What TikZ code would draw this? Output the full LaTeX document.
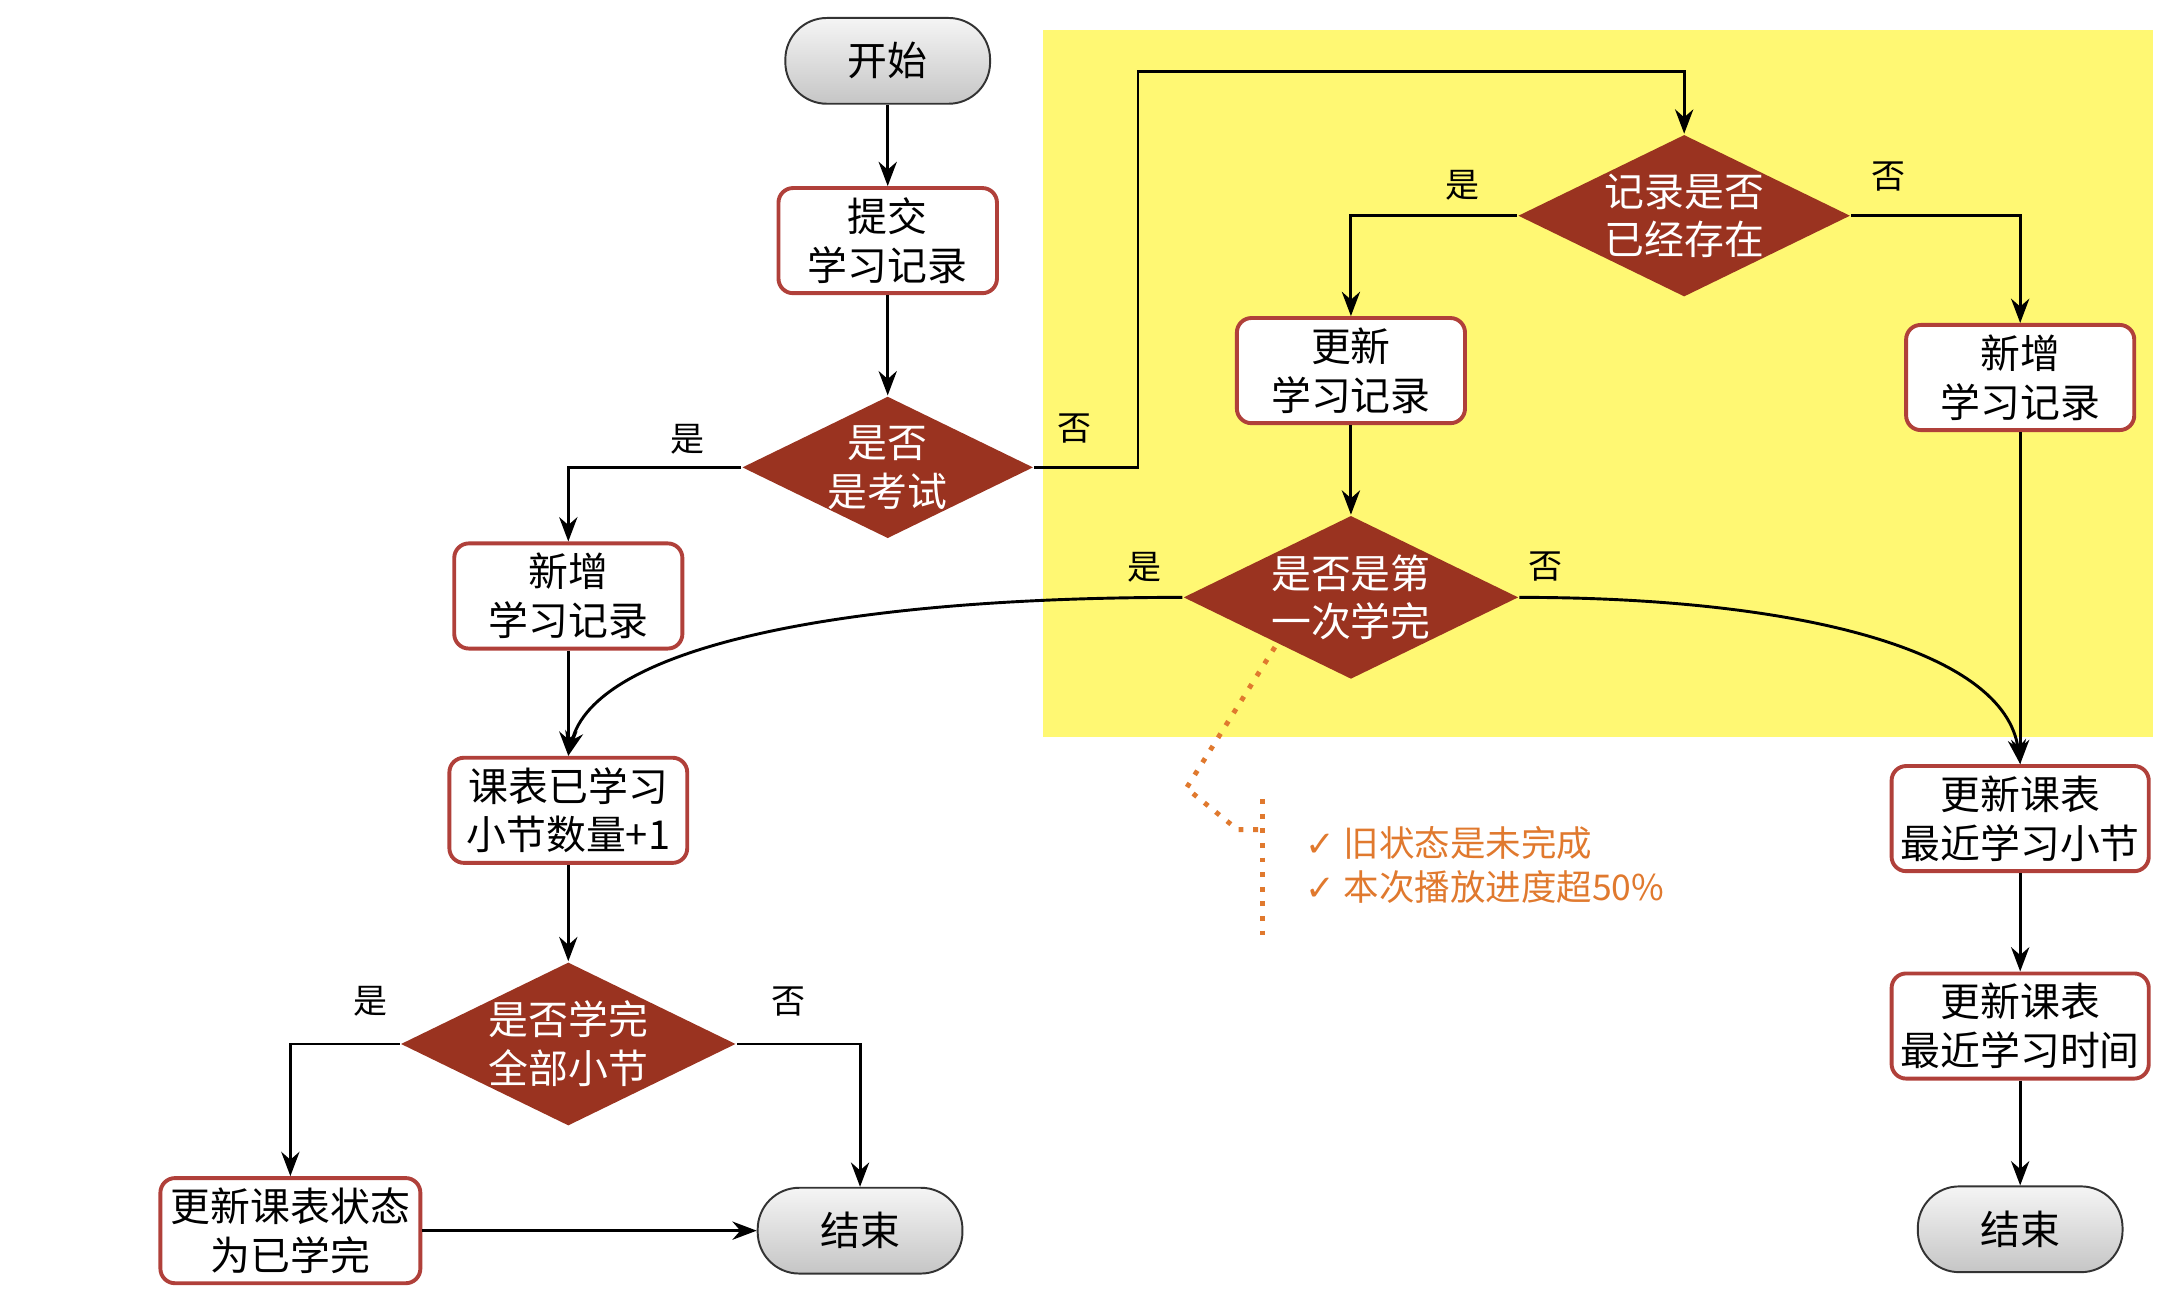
\documentclass[tikz,border=0pt]{standalone}
\usepackage{fontspec}
\setmainfont{Noto Sans CJK SC}
\newfontfamily\ckf{DejaVu Sans}
\usetikzlibrary{shapes.geometric,arrows.meta}
\definecolor{dred}{HTML}{9A3320}
\definecolor{bred}{HTML}{B0403A}
\definecolor{note}{HTML}{E0792E}
\begin{document}
\begin{tikzpicture}[x=0.01cm,y=-0.01cm,
 font=\fontsize{8.2}{10}\selectfont,
 box/.style={draw=bred,line width=0.8pt,rounded corners=3pt,fill=white,minimum width=#1*0.01cm,minimum height=0.76cm,align=center,inner sep=1pt},
 term/.style={draw=black!80,rounded corners=0.3cm,top color=gray!8,bottom color=gray!45,minimum width=1.48cm,minimum height=0.62cm},
 dia/.style={diamond,aspect=2.05,fill=dred,text=white,minimum width=#1*0.01cm,align=center,inner sep=0pt},
 ar/.style={-{Stealth[length=5pt]},line width=0.6pt},
 lab/.style={font=\fontsize{7}{8}\selectfont}]
\useasboundingbox (0,0) rectangle (1565,935);
\fill[yellow!55] (754,22) rectangle (1557,533);
\node[term] (s) at (642,44) {开始};
\node[box=158] (tj) at (642,174) {提交\\学习记录};
\node[dia=210] (ks) at (642,338) {是否\\是考试};
\node[box=165] (xz1) at (411,431) {新增\\学习记录};
\node[box=172] (kb) at (411,586) {课表已学习\\小节数量+1};
\node[dia=240] (xw) at (411,755) {是否学完\\全部小节};
\node[box=188] (zt) at (210,890) {更新课表状态\\为已学完};
\node[term] (e1) at (622,890) {结束};
\node[dia=240] (jl) at (1218,156) {记录是否\\已经存在};
\node[box=165] (gx) at (977,268) {更新\\学习记录};
\node[box=165] (xz2) at (1461,273) {新增\\学习记录};
\node[dia=240] (dy) at (977,432) {是否是第\\一次学完};
\node[box=186] (xj) at (1461,592) {更新课表\\最近学习小节};
\node[box=186] (sj) at (1461,742) {更新课表\\最近学习时间};
\node[term] (e2) at (1461,889) {结束};
\draw[ar] (s) -- (tj);
\draw[ar] (tj) -- (ks);
\draw[ar] (ks.west) -| (xz1.north);
\draw[ar] (ks.east) -- (823,338) -- (823,52) -| (jl.north);
\draw[ar] (xz1) -- (kb);
\draw[ar] (kb) -- (xw);
\draw[ar] (xw.west) -| (zt.north);
\draw[ar] (xw.east) -| (e1.north);
\draw[ar] (zt.east) -- (e1.west);
\draw[ar] (jl.west) -| (gx.north);
\draw[ar] (jl.east) -| (xz2.north);
\draw[ar] (gx) -- (dy);
\draw[ar] (xz2) -- (xj);
\draw[ar] (dy.west) .. controls (600,432) and (430,470) .. (kb.north);
\draw[ar] (dy.east) .. controls (1300,432) and (1450,470) .. (xj.north);
\draw[ar] (xj) -- (sj);
\draw[ar] (sj) -- (e2);
\node[lab] (l1) at (497,318) {是};
\node[lab] (l2) at (777,310) {否};
\node[lab] (l3) at (1058,134) {是};
\node[lab] (l4) at (1366,128) {否};
\node[lab] (l5) at (828,410) {是};
\node[lab] (l6) at (1118,410) {否};
\node[lab] (l7) at (268,724) {是};
\node[lab] (l8) at (570,724) {否};
\coordinate (n0) at (922,468);
\coordinate (n1) at (858,570);
\coordinate (n2) at (895,600);
\draw[note,dotted,line width=1pt] (n0) -- (n1) -- (n2) -- (913,600);
\draw[note,dotted,line width=1pt] (913,578) -- (913,678);
\node[anchor=west,text=note,font=\fontsize{7.3}{9}\selectfont] (nt) at (932,629) {\begin{tabular}{@{}l@{}}{\ckf ✓} 旧状态是未完成\\{\ckf ✓} 本次播放进度超50\%\end{tabular}};
\end{tikzpicture}
\end{document}
